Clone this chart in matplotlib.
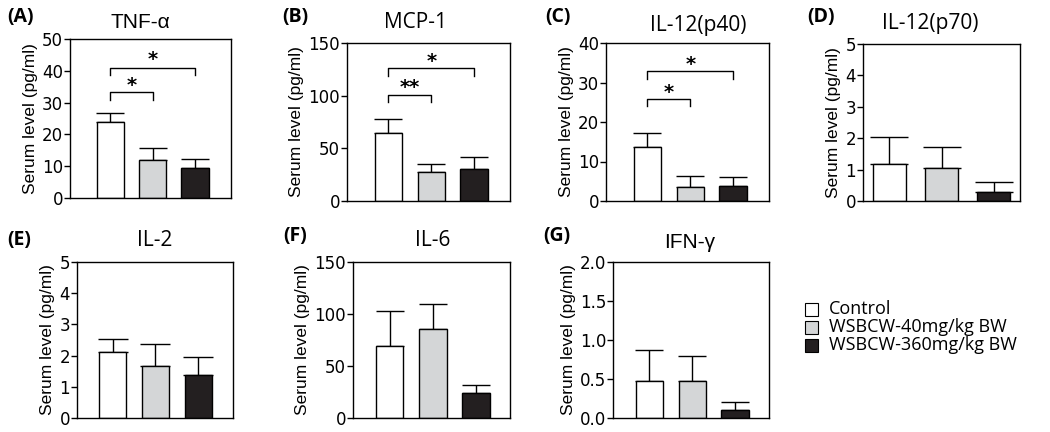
import numpy as np
import matplotlib
matplotlib.use('Agg')
import matplotlib.pyplot as plt
from matplotlib.patches import Rectangle

# groups and colours
groups = ['Control', 'WSBCW-40mg/kg BW', 'WSBCW-360mg/kg BW']
bar_colors = ['#ffffff', '#d4d6d7', '#231f20']

panel_tags = ['(A)', '(B)', '(C)', '(D)', '(E)', '(F)', '(G)']
titles = ['TNF-\u03b1', 'MCP-1', 'IL-12(p40)', 'IL-12(p70)', 'IL-2', 'IL-6', 'IFN-\u03b3']

# mean and upper SD
tnf_mean = [23.8, 12.1, 9.3]
tnf_sd = [3.0, 3.7, 3.1]
mcp_mean = [64.6, 27.8, 30.0]
mcp_sd = [13.2, 7.3, 11.8]
p40_mean = [13.6, 3.6, 3.8]
p40_sd = [3.6, 2.8, 2.3]
p70_mean = [1.17, 1.06, 0.30]
p70_sd = [0.87, 0.65, 0.29]
il2_mean = [2.13, 1.68, 1.39]
il2_sd = [0.40, 0.69, 0.58]
il6_mean = [69.6, 85.6, 24.0]
il6_sd = [33.6, 24.0, 7.4]
ifn_mean = [0.48, 0.47, 0.10]
ifn_sd = [0.39, 0.32, 0.11]

means = [tnf_mean, mcp_mean, p40_mean, p70_mean, il2_mean, il6_mean, ifn_mean]
sds = [tnf_sd, mcp_sd, p40_sd, p70_sd, il2_sd, il6_sd, ifn_sd]

y_max = [50, 150, 40, 5, 5, 150, 2.0]
y_step = [10, 50, 10, 1, 1, 50, 0.5]

# significance brackets: (bar i, bar j, bracket y, leg bottom y, label, star y)
sig_tnf = [(0, 1, 33.3, 30.8, '*', 37.2), (0, 2, 41.0, 38.7, '*', 45.3)]
sig_mcp = [(0, 1, 100.3, 94.0, '**', 113.0), (0, 2, 126.0, 118.7, '*', 138.0)]
sig_p40 = [(0, 1, 25.9, 24.0, '*', 28.9), (0, 2, 32.9, 31.0, '*', 35.9)]
sigs = [sig_tnf, sig_mcp, sig_p40, [], [], [], []]

# layout in pixels (left, right, top, bottom) of each axes box
W, H = 1050, 432
boxes = [(70, 231, 39, 198), (347, 510, 43, 201), (606, 769, 43, 201),
         (863, 1020, 44, 201), (77, 233, 262, 418), (353, 510, 262, 418),
         (613, 769, 262, 418)]
xlims = [(-0.95, 2.85), (-0.97, 2.84), (-0.97, 2.84), (-0.5, 2.5),
         (-0.83, 2.81), (-0.85, 2.79), (-0.85, 2.79)]
bar_w = [0.64, 0.64, 0.64, 0.63, 0.64, 0.64, 0.64]
caps = [10, 10, 10, 14, 11, 10, 10]
title_xy = [(140, 22), (416, 23), (698, 25), (930, 23), (155, 240), (433, 240), (690, 243)]
tag_xy = [(7, 17), (282, 17), (545, 17), (807, 17), (7, 240), (283, 236), (543, 236)]

fig = plt.figure(figsize=(10.5, 4.32), dpi=100)

for k in range(7):
    l, r, t, b = boxes[k]
    ax = fig.add_axes([l / W, 1 - b / H, (r - l) / W, (b - t) / H])
    x = np.arange(3)
    lower = np.zeros(3)
    ax.bar(x, means[k], width=bar_w[k], color=bar_colors, edgecolor='black',
           linewidth=1.0, zorder=2)
    ax.errorbar(x, means[k], yerr=[lower, sds[k]], fmt='none', ecolor='black',
                elinewidth=1.0, capsize=caps[k], capthick=1.0, zorder=1)
    for (i, j, yb, yl, lab, ys) in sigs[k]:
        ax.plot([i, i, j, j], [yl, yb, yb, yl], color='black', lw=1.0)
        ax.annotate(lab, xy=((i + j) / 2, ys), xytext=(0, -8), textcoords='offset points',
                    ha='center', va='baseline', fontsize=14, fontweight='bold',
                    family='DejaVu Sans')
    ax.set_xlim(*xlims[k])
    ax.set_ylim(0, y_max[k])
    ticks = np.arange(0, y_max[k] + y_step[k] / 2, y_step[k])
    ax.set_yticks(ticks)
    if k == 6:
        ax.set_yticklabels([f'{v:.1f}' for v in ticks])
    else:
        ax.set_yticklabels([f'{v:g}' for v in ticks])
    ax.set_xticks([])
    ax.tick_params(axis='y', length=4, width=1.0, pad=1, labelsize=12)
    for lbl in ax.get_yticklabels():
        lbl.set_family('DejaVu Sans')
    for s in ax.spines.values():
        s.set_linewidth(1.0)
    ax.set_ylabel('Serum level (pg/ml)', fontsize=12.5, family='Liberation Sans', labelpad=3)

    tx, ty = title_xy[k]
    tfam = 'Liberation Sans' if k in (0, 6) else 'Open Sans'
    fig.text(tx / W, 1 - ty / H, titles[k], ha='center', va='center',
             fontsize=15, family=tfam)
    px, py = tag_xy[k]
    fig.text(px / W, 1 - py / H, panel_tags[k], ha='left', va='center',
             fontsize=14, fontweight='bold', family='Open Sans')

# legend
leg_y = [309, 327, 345]
for c, g, yy in zip(bar_colors, groups, leg_y):
    fig.patches.append(Rectangle((805 / W, 1 - (yy + 6.5) / H), 13 / W, 13 / H,
                                 transform=fig.transFigure, facecolor=c,
                                 edgecolor='black', linewidth=0.8))
    fig.text(829 / W, 1 - yy / H, g, ha='left', va='center', fontsize=13,
             family='Open Sans')

fig.savefig('out.png', dpi=100)
